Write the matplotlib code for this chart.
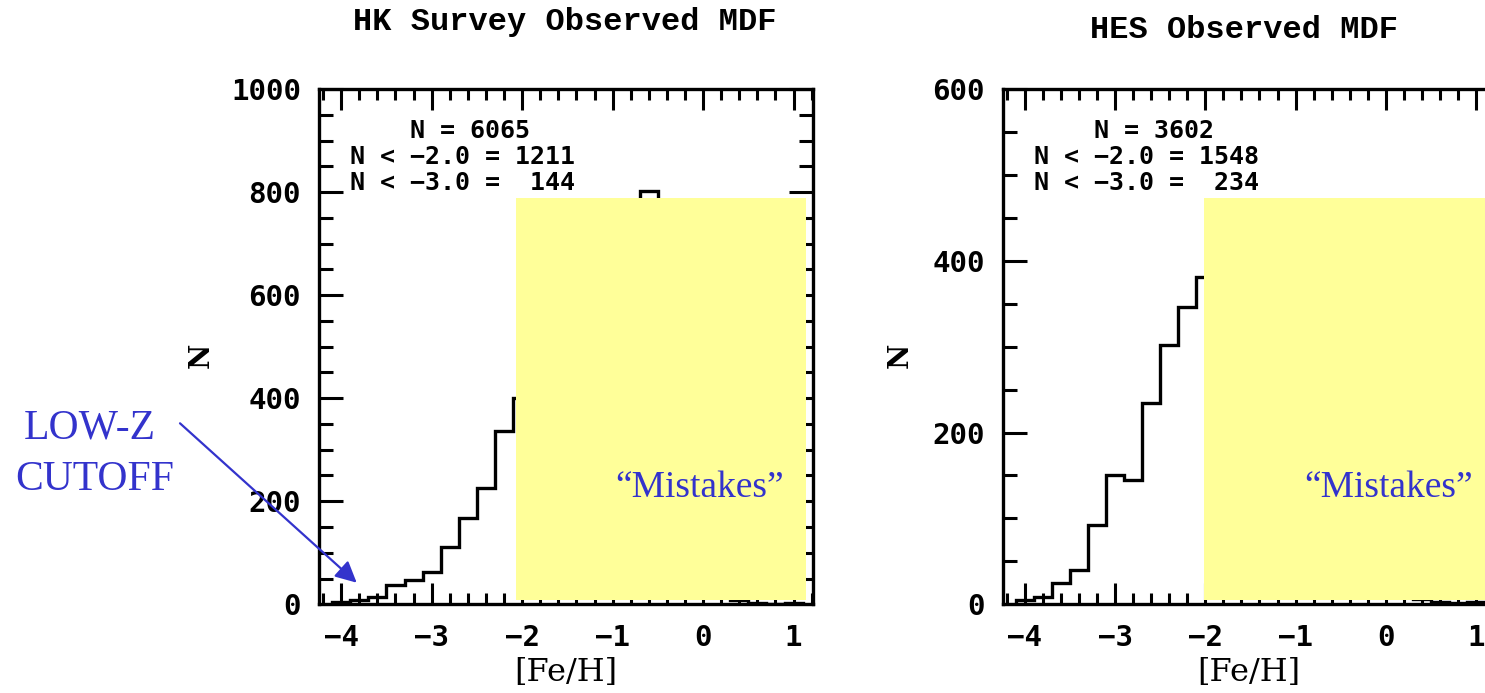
import numpy as np
import matplotlib.pyplot as plt
from matplotlib.patches import Rectangle
from matplotlib.ticker import MultipleLocator

################################################################################
# data #

# [Fe/H] bin edges, 0.2 dex bins #
edges = np.linspace(-4.1, 1.1, 27)

# HK survey counts per bin (bins above -2.0 sit under the shaded band) #
hk_counts = [4, 9, 14, 38, 47, 63, 111, 168, 226, 337, 400,
             430, 470, 500, 540, 600, 700, 803, 420, 120, 30, 21, 8, 3, 1, 3]

# HES counts per bin #
hes_counts = [5, 8, 25, 40, 92, 150, 145, 234, 302, 346, 381,
              360, 330, 290, 250, 200, 160, 120, 80, 40, 20, 10, 6, 3, 2, 3]

titles = ['HK Survey Observed MDF', 'HES Observed MDF']
stats = [['    N = 6065', 'N < \u22122.0 = 1211', 'N < \u22123.0 =  144'],
         ['    N = 3602', 'N < \u22122.0 = 1548', 'N < \u22123.0 =  234']]
ymax = [1000, 600]

# shaded "mistakes" region (x0, x1, y0, y1) #
bands = [(-2.065, 1.14, 8, 788), (-2.015, 1.4, 5, 473)]

################################################################################
# plot #

blue = '#3333cc'
yellow = '#ffff99'
mono = 'DejaVu Sans Mono'

W, H = 1485, 693
fig = plt.figure(figsize=(W / 100, H / 100), dpi=100)

# axes boxes in pixels: left, right, top, bottom #
boxes = [(319, 813, 89, 604.3), (1002.7, 1495.5, 89, 604.3)]
title_pos = [(565, 22), (1244, 30)]
ylab_x = [201, 900]
stat_y = [0.918, 0.868, 0.818]

for k in range(2):
  l, r, t, b = boxes[k]
  ax = fig.add_axes([l / W, 1 - b / H, (r - l) / W, (b - t) / H])

  ax.stairs(hk_counts if k == 0 else hes_counts, edges,
            color='black', linewidth=2.4, zorder=2)

  x0, x1, y0, y1 = bands[k]
  ax.add_patch(Rectangle((x0, y0), x1 - x0, y1 - y0, facecolor=yellow,
                         edgecolor='none', zorder=3))

  ax.set_xlim(-4.245, 1.215)
  ax.set_ylim(0, ymax[k])
  ax.xaxis.set_major_locator(MultipleLocator(1))
  ax.xaxis.set_minor_locator(MultipleLocator(0.2))
  ax.yaxis.set_major_locator(MultipleLocator(200))
  ax.yaxis.set_minor_locator(MultipleLocator(50))
  ax.tick_params(which='both', direction='in', top=True, right=(k == 0),
                 width=2.2, colors='black')
  ax.tick_params(axis='x', which='major', length=15, pad=14)
  ax.tick_params(axis='x', which='minor', length=8)
  ax.tick_params(axis='y', which='major', length=17, pad=13)
  ax.tick_params(axis='y', which='minor', length=10)
  for lab in ax.get_xticklabels() + ax.get_yticklabels():
    lab.set_fontfamily(mono)
    lab.set_fontweight('bold')
    lab.set_fontsize(21)
  for sp in ax.spines.values():
    sp.set_linewidth(2.4)

  ax.set_xlabel('[Fe/H]', fontfamily='DejaVu Serif', fontsize=23, labelpad=4)

  # counts summary #
  for i, line in enumerate(stats[k]):
    ax.text(-3.90, stat_y[i], line, transform=ax.get_xaxis_transform(),
            fontfamily=mono, fontweight='bold', fontsize=18,
            ha='left', va='center', zorder=4)

  ax.text([-0.044, 0.031][k], [226, 135.5][k], '\u201cMistakes\u201d',
          fontfamily='Liberation Serif', fontsize=27, color=blue,
          ha='center', va='center', zorder=4)

  fig.text(title_pos[k][0] / W, 1 - title_pos[k][1] / H, titles[k],
           fontfamily='Liberation Mono', fontweight='bold', fontsize=23,
           ha='center', va='center')
  fig.text(ylab_x[k] / W, 1 - 355 / H, 'N', rotation=90,
           fontfamily='DejaVu Serif', fontweight='bold', fontsize=20,
           ha='center', va='center')

# low metallicity cutoff note #
fig.text(90 / W, 1 - 428 / H, 'LOW-Z', fontfamily='Liberation Serif',
         fontsize=30, color=blue, ha='center', va='center')
fig.text(95 / W, 1 - 480 / H, 'CUTOFF', fontfamily='Liberation Serif',
         fontsize=30, color=blue, ha='center', va='center')
fig.add_artist(plt.Annotation('', xy=(356.7 / W, 1 - 582.7 / H),
                              xytext=(180 / W, 1 - 423.3 / H),
                              xycoords='figure fraction',
                              arrowprops=dict(arrowstyle='-|>', color=blue,
                                              lw=1.6, mutation_scale=32,
                                              shrinkA=0, shrinkB=0)))

fig.savefig('out.png', dpi=100)
